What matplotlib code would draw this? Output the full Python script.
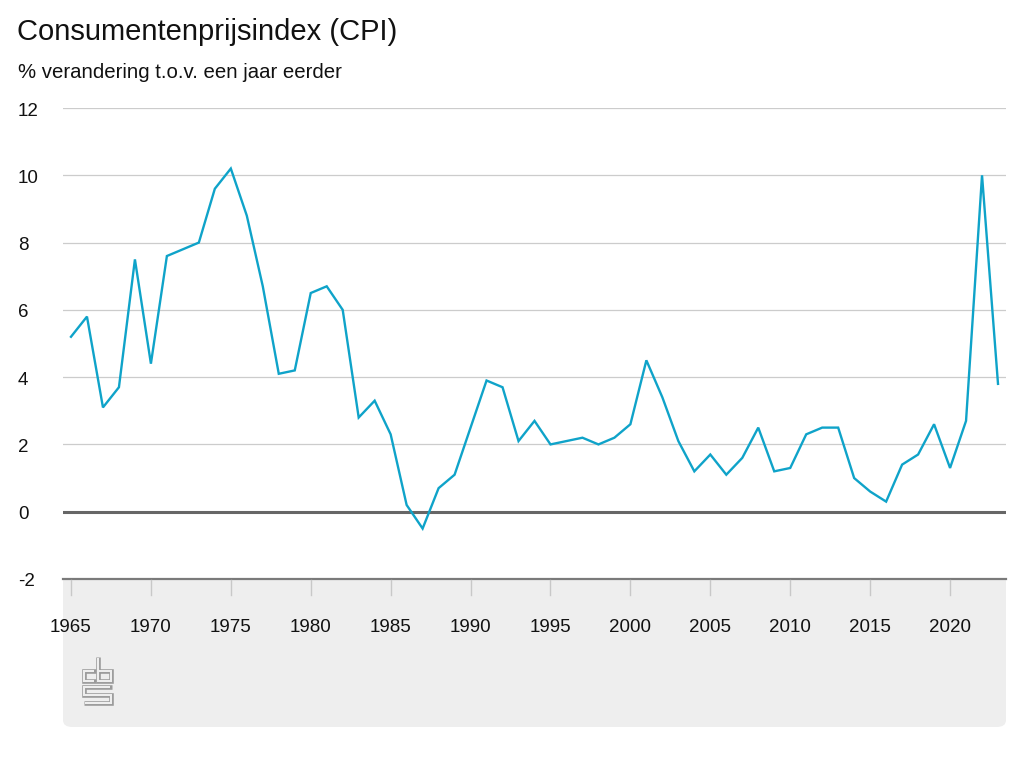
import matplotlib
matplotlib.use("Agg")
import matplotlib.pyplot as plt
from matplotlib.patches import FancyBboxPatch
from matplotlib.lines import Line2D
from matplotlib.transforms import blended_transform_factory, offset_copy

plt.rcParams['font.family'] = ['Liberation Sans', 'DejaVu Sans']

years = list(range(1965, 2024))
cpi = [5.2, 5.8, 3.1, 3.7, 7.5, 4.4, 7.6, 7.8, 8.0, 9.6,
       10.2, 8.8, 6.7, 4.1, 4.2, 6.5, 6.7, 6.0, 2.8, 3.3,
       2.3, 0.2, -0.5, 0.7, 1.1, 2.5, 3.9, 3.7, 2.1, 2.7,
       2.0, 2.1, 2.2, 2.0, 2.2, 2.6, 4.5, 3.4, 2.1, 1.2,
       1.7, 1.1, 1.6, 2.5, 1.2, 1.3, 2.3, 2.5, 2.5, 1.0,
       0.6, 0.3, 1.4, 1.7, 2.6, 1.3, 2.7, 10.0, 3.8]
yticks = [-2, 0, 2, 4, 6, 8, 10, 12]
xticks = list(range(1965, 2021, 5))

title = "Consumentenprijsindex (CPI)"
subtitle = "% verandering t.o.v. een jaar eerder"

W, H = 1024, 768
fig = plt.figure(figsize=(W / 100, H / 100), dpi=100)
fig.patch.set_facecolor('white')

def fx(px):
    return px / W

def fy(py):
    return 1 - py / H

# grey footer panel
panel_col = '#eeeeee'
panel = FancyBboxPatch((fx(63), fy(727)), fx(1006) - fx(63), fy(560) - fy(727),
                       boxstyle="round,pad=0,rounding_size=0.009",
                       transform=fig.transFigure, facecolor=panel_col,
                       edgecolor='none', zorder=-5)
fig.patches.append(panel)

ax_left, ax_right, ax_top, ax_bot = 63, 1006, 108, 579
ax = fig.add_axes([fx(ax_left), fy(ax_bot), fx(ax_right) - fx(ax_left), (ax_bot - ax_top) / H])
ax.set_facecolor('white')
ax.set_xlim(1964.5, 2023.5)
ax.set_ylim(-2, 12)

for s in ax.spines.values():
    s.set_visible(False)
ax.set_yticks([])
ax.set_xticks([])

for yv in yticks:
    if yv == 0:
        ax.axhline(yv, color='#666666', lw=2.2, zorder=3)
    elif yv == -2:
        ax.axhline(yv, color='#7a7a7a', lw=1.6, zorder=3, clip_on=False)
    else:
        ax.axhline(yv, color='#cccccc', lw=0.9, zorder=1)

ax.plot(years, cpi, color='#0fa3c9', lw=1.7, zorder=4, solid_joinstyle='miter')

# y labels
tr_y = offset_copy(blended_transform_factory(fig.transFigure, ax.transData),
                   fig=fig, y=-3, units='dots')
for yv in yticks:
    fig.text(fx(18), yv, str(yv), transform=tr_y, ha='left', va='center',
             fontsize=13.5, color='#111111')

# x ticks and labels
tr_x = blended_transform_factory(ax.transData, fig.transFigure)
for xv in xticks:
    fig.add_artist(Line2D([xv, xv], [fy(580), fy(595)], transform=tr_x,
                          color='#c8c8c8', lw=1.0))
    fig.text(xv, fy(627), str(xv), transform=tr_x, ha='center', va='center',
             fontsize=13.5, color='#111111')

# titles
fig.text(fx(17), fy(32), title, ha='left', va='center', fontsize=21, color='#111111')
fig.text(fx(18), fy(73), subtitle, ha='left', va='center', fontsize=14.7, color='#111111')

# cbs logo (outlined strokes)
logo_paths = [
    [(95.5, 671), (84, 671), (84, 681), (95.5, 681)],
    [(98, 657), (98, 681), (111, 681), (111, 671), (98, 671)],
    [(111.5, 687), (84, 687), (84, 695), (111, 695), (111, 703), (83.5, 703)],
]

def shorten(p, d=1.2):
    import math
    p = list(p)
    (x0, y0), (x1, y1) = p[0], p[1]
    L = math.hypot(x1 - x0, y1 - y0)
    p[0] = (x0 + (x1 - x0) * d / L, y0 + (y1 - y0) * d / L)
    (x0, y0), (x1, y1) = p[-1], p[-2]
    L = math.hypot(x1 - x0, y1 - y0)
    p[-1] = (x0 + (x1 - x0) * d / L, y0 + (y1 - y0) * d / L)
    return p

for p in logo_paths:
    xs = [fx(a) for a, b in p]
    ys = [fy(b) for a, b in p]
    fig.add_artist(Line2D(xs, ys, transform=fig.transFigure, color='#9a9a9a',
                          lw=3.3, solid_capstyle='butt', solid_joinstyle='miter'))
    q = shorten(p)
    xs = [fx(a) for a, b in q]
    ys = [fy(b) for a, b in q]
    fig.add_artist(Line2D(xs, ys, transform=fig.transFigure, color=panel_col,
                          lw=1.5, solid_capstyle='butt', solid_joinstyle='miter'))

fig.savefig('out.png', dpi=100)
